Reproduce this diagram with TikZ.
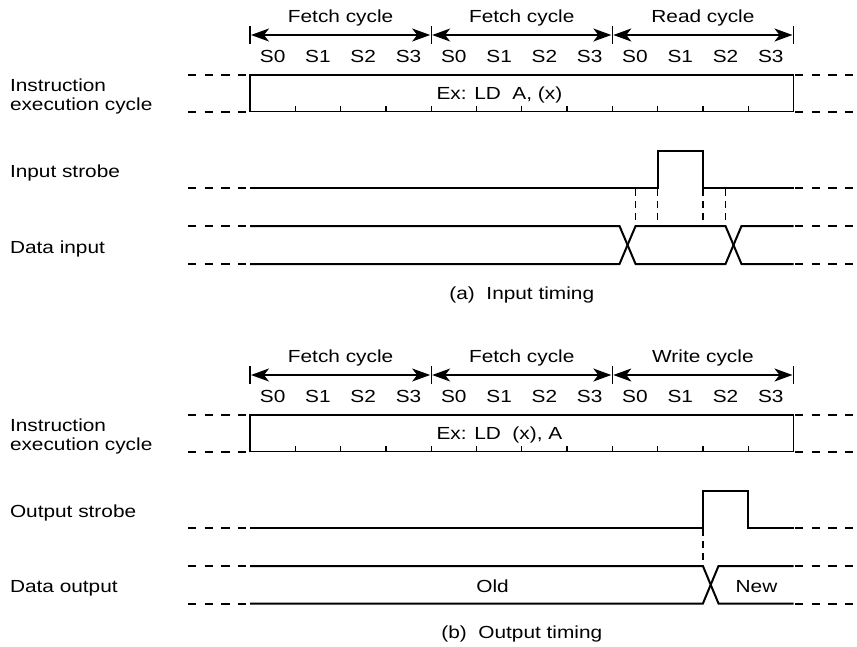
\documentclass[tikz,border=0pt]{standalone}
\usepackage{fontspec}
\setmainfont{Liberation Sans}[FakeStretch=1.19]
\usetikzlibrary{arrows.meta}
\begin{document}
\begin{tikzpicture}[x=1pt,y=-1pt,
  txt/.style={inner sep=0pt, outer sep=0pt, font=\fontsize{17.5}{21}\selectfont},
  lbl/.style={txt, anchor=base west},
  ctr/.style={txt, anchor=base},
  sig/.style={line width=2pt, line join=miter, line cap=butt},
  boxline/.style={line width=1.3pt},
  ext/.style={line width=2pt, dash pattern=on 8.3pt off 8.3pt},
  guide/.style={line width=1.5pt, dash pattern=on 7pt off 5pt},
  cyc/.style={line width=1.4pt, shorten <=1pt, shorten >=1pt, {Stealth[length=18pt,width=13pt,inset=5pt]}-{Stealth[length=18pt,width=13pt,inset=5pt]}},
  tickline/.style={line width=1.3pt}
]
\useasboundingbox (0,0) rectangle (857,646);
\def\w{45.29}
\foreach \o/\sec in {0/a,340/b}{
  % cycle boundaries and brackets
  \foreach \k in {0,...,3}{
    \coordinate (\sec c\k) at ({250+4*\w*\k},{\o+35});
    \draw[tickline] ({250+4*\w*\k},{\o+26}) -- ({250+4*\w*\k},{\o+44});
  }
  \draw[cyc] (\sec c0) -- (\sec c1);
  \draw[cyc] (\sec c1) -- (\sec c2);
  \draw[cyc] (\sec c2) -- (\sec c3);
  % state labels
  \foreach \c in {0,1,2}{
    \foreach \s in {0,...,3}{
      \node[ctr] (\sec s\c\s) at ({250+\w*(4*\c+\s+0.5)},{\o+62.5}) {S\s};
    }
  }
  % instruction box
  \draw[boxline] (250,{\o+75}) rectangle (793.5,{\o+111.5});
  \foreach \k in {1,...,11}{
    \draw[tickline] ({250+\w*\k},{\o+111.5}) -- ++(0,-5.5);
  }
  % extension dashes
  \foreach \yy in {75,111.5,188,226,264}{
    \draw[ext] (188,{\o+\yy}) -- (246,{\o+\yy});
    \draw[ext] (795,{\o+\yy}) -- (857,{\o+\yy});
  }
}
% cycle names
\node[ctr] (fa1) at (340.6,22.5) {Fetch cycle};
\node[ctr] (fa2) at (521.8,22.5) {Fetch cycle};
\node[ctr] (ra) at (702.9,22.5) {Read cycle};
\node[ctr] (fb1) at (340.6,362.5) {Fetch cycle};
\node[ctr] (fb2) at (521.8,362.5) {Fetch cycle};
\node[ctr] (wb) at (702.9,362.5) {Write cycle};
% box texts
\node[lbl] (exa) at (436.5,99) {Ex: LD~~A, (x)};
\node[lbl] (exb) at (436.5,439) {Ex: LD~~(x), A};
% left labels
\node[lbl] (ia1) at (10,91) {Instruction};
\node[lbl] (ia2) at (10,110) {execution cycle};
\node[lbl] (isa) at (10,177.5) {Input strobe};
\node[lbl] (dia) at (10,253.5) {Data input};
\node[lbl] (ib1) at (10,431) {Instruction};
\node[lbl] (ib2) at (10,450) {execution cycle};
\node[lbl] (osb) at (10,517) {Output strobe};
\node[lbl] (dob) at (10,592.5) {Data output};
% captions
\node[ctr] (capa) at (521.8,299) {(a)~~Input timing};
\node[ctr] (capb) at (521.8,638.3) {(b)~~Output timing};
% input timing waveforms
\draw[sig] (250,188) -- (657.6,188) -- (657.6,151) -- (702.9,151) -- (702.9,188) -- (793.5,188);
\draw[sig] (250,226) -- (619.5,226) -- (635.6,264) -- (725.5,264) -- (741.5,226) -- (793.5,226);
\draw[sig] (250,264) -- (619.5,264) -- (635.6,226) -- (725.5,226) -- (741.5,264) -- (793.5,264);
\foreach \xx in {635.6,657.6,702.9,725.5}{
  \draw[guide] (\xx,189) -- (\xx,225);
}
% output timing waveforms
\draw[sig] (250,528) -- (702.9,528) -- (702.9,490.5) -- (748.2,490.5) -- (748.2,528) -- (793.5,528);
\draw[sig] (250,566) -- (702.9,566) -- (718.5,603.5) -- (793.5,603.5);
\draw[sig] (250,603.5) -- (702.9,603.5) -- (718.5,566) -- (793.5,566);
\draw[guide] (702.9,529) -- (702.9,565);
\node[ctr] (old) at (492.5,592) {Old};
\node[ctr] (new) at (756.5,592) {New};
\end{tikzpicture}
\end{document}
